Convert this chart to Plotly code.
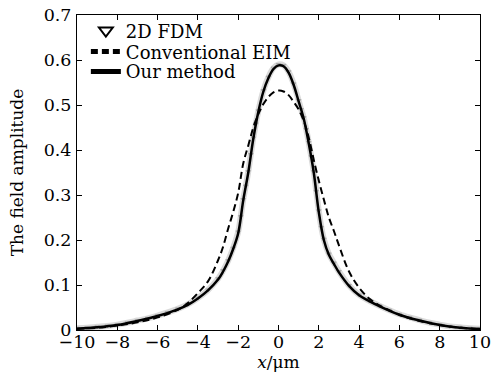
import plotly.graph_objects as go

# Our method (solid)
x_our = [-10, -9, -8, -7, -6, -5, -4.5, -4, -3.5, -3, -2.75, -2.5, -2.25, -2, -1.75, -1.5, -1.25, -1,
         -0.75, -0.5, -0.25, 0, 0.25, 0.5, 0.75, 1, 1.25, 1.5, 1.75, 2, 2.25, 2.5, 2.75, 3, 3.5, 4,
         4.5, 5, 6, 7, 8, 9, 10]
y_our = [0.003, 0.006, 0.011, 0.020, 0.031, 0.046, 0.056, 0.070, 0.088, 0.112, 0.130, 0.152, 0.180,
         0.215, 0.288, 0.350, 0.425, 0.485, 0.530, 0.560, 0.580, 0.588, 0.586, 0.572, 0.545, 0.508,
         0.470, 0.415, 0.350, 0.262, 0.200, 0.167, 0.147, 0.128, 0.098, 0.077, 0.064, 0.053, 0.034,
         0.021, 0.011, 0.005, 0.002]

# Conventional EIM (dashed)
x_eim = [-10, -9, -8, -7, -6, -5, -4.5, -4, -3.5, -3, -2.75, -2.5, -2.25, -2, -1.75, -1.5, -1.25, -1,
         -0.75, -0.5, -0.25, 0, 0.25, 0.5, 0.75, 1, 1.25, 1.5, 1.75, 2, 2.25, 2.5, 2.75, 3, 3.5, 4,
         4.5, 5, 6, 7, 8, 9, 10]
y_eim = [0.003, 0.005, 0.010, 0.017, 0.028, 0.045, 0.060, 0.082, 0.108, 0.155, 0.185, 0.225, 0.262,
         0.305, 0.370, 0.410, 0.450, 0.480, 0.502, 0.518, 0.528, 0.532, 0.530, 0.522, 0.507, 0.490,
         0.465, 0.428, 0.378, 0.332, 0.290, 0.250, 0.220, 0.188, 0.130, 0.094, 0.070, 0.055, 0.034,
         0.020, 0.011, 0.005, 0.002]

# 2D FDM (markers)
x_fdm = [-10, -9.5, -9, -8.5, -8, -7.5, -7, -6.5, -6, -5.5, -5, -4.5, -4, -3.5, -3, -2.75, -2.5,
         -2.25, -2, -1.875, -1.75, -1.625, -1.5, -1.375, -1.25, -1.125, -1, -0.75, -0.5, -0.25, 0,
         0.25, 0.5, 0.75, 1, 1.125, 1.25, 1.375, 1.5, 1.625, 1.75, 1.875, 2, 2.125, 2.25, 2.5, 2.75,
         3, 3.5, 4, 4.5, 5, 5.5, 6, 6.5, 7, 7.5, 8, 8.5, 9, 9.5, 10]
y_fdm = [0.004, 0.005, 0.007, 0.009, 0.012, 0.016, 0.021, 0.026, 0.032, 0.039, 0.047, 0.057, 0.071,
         0.089, 0.114, 0.132, 0.154, 0.182, 0.218, 0.252, 0.290, 0.320, 0.352, 0.390, 0.427, 0.458,
         0.487, 0.532, 0.562, 0.582, 0.590, 0.588, 0.574, 0.547, 0.510, 0.490, 0.472, 0.446, 0.417,
         0.385, 0.352, 0.308, 0.265, 0.228, 0.202, 0.169, 0.149, 0.130, 0.099, 0.078, 0.065, 0.054,
         0.044, 0.035, 0.028, 0.022, 0.016, 0.012, 0.008, 0.006, 0.004, 0.003]

x_ticks = [-10, -8, -6, -4, -2, 0, 2, 4, 6, 8, 10]
x_tick_labels = ["\u221210", "\u22128", "\u22126", "\u22124", "\u22122", "0", "2", "4", "6", "8", "10"]
y_ticks = [0, 0.1, 0.2, 0.3, 0.4, 0.5, 0.6, 0.7]
y_tick_labels = ["0", "0.1", "0.2", "0.3", "0.4", "0.5", "0.6", "0.7"]

FONT = "DejaVu Serif"

fig = go.Figure()
# gray halo of dense FDM samples
fig.add_trace(go.Scatter(x=x_fdm, y=y_fdm, mode="lines", line=dict(color="#dadada", width=6, shape="spline"),
                         showlegend=False, hoverinfo="skip"))
fig.add_trace(go.Scatter(x=x_fdm, y=y_fdm, mode="markers",
                         marker=dict(symbol="triangle-down-open", size=4, color="#a8a8a8", line=dict(width=1)),
                         showlegend=False))
# legend entry for FDM
fig.add_trace(go.Scatter(x=[None], y=[None], mode="markers", name="2D FDM", legend="legend",
                         marker=dict(symbol="triangle-down-open", size=10, color="black", line=dict(width=2.5))))
fig.add_trace(go.Scatter(x=x_eim, y=y_eim, mode="lines", name="Conventional EIM", legend="legend2",
                         line=dict(color="black", width=2, dash="7px,4px", shape="spline")))
fig.add_trace(go.Scatter(x=x_our, y=y_our, mode="lines", name="Our method", legend="legend3",
                         line=dict(color="black", width=2.5, shape="spline")))

axis_common = dict(showline=True, linecolor="black", linewidth=1, mirror="allticks", ticks="inside",
                   ticklen=5, tickcolor="black", showgrid=False, zeroline=False, automargin=False,
                   tickfont=dict(family=FONT, size=17.5, color="black"))

leg_common = dict(x=0.022, xanchor="left", yanchor="middle", bgcolor="rgba(0,0,0,0)",
                  font=dict(family=FONT, size=18), itemwidth=30, itemsizing="constant")

fig.update_layout(
    width=494, height=376,
    margin=dict(l=77, r=14, t=13, b=46),
    paper_bgcolor="white", plot_bgcolor="white",
    font=dict(family=FONT, size=17, color="black"),
    xaxis=dict(range=[-10, 10], tickvals=x_ticks, ticktext=x_tick_labels, ticklabelstandoff=-4,
               title=dict(text="<i>x</i>/\u03bcm", font=dict(family=FONT, size=17), standoff=3),
               **axis_common),
    yaxis=dict(range=[0, 0.7], tickvals=y_ticks, ticktext=y_tick_labels, ticklabelstandoff=1,
               title=dict(text="The field amplitude", font=dict(family=FONT, size=17), standoff=15),
               **axis_common),
    legend=dict(y=0.9495, **leg_common),
    legend2=dict(y=0.883, **leg_common),
    legend3=dict(y=0.820, **leg_common),
    showlegend=True,
)

fig.write_html("out.html", config={"displayModeBar": False},
               post_script="document.body.style.margin='0';document.body.style.padding='0';")
